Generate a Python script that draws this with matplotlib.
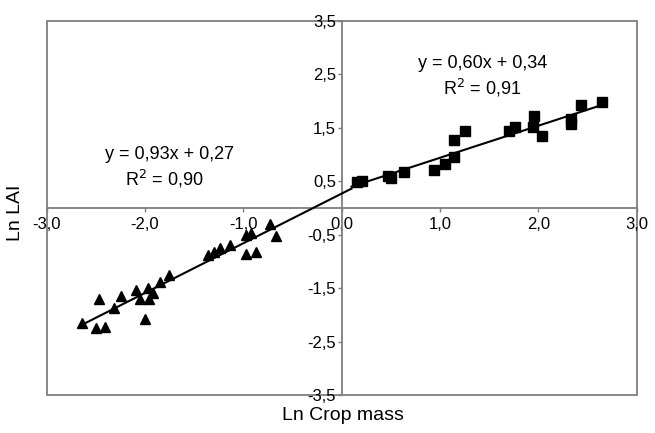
import numpy as np
import matplotlib
matplotlib.use("Agg")
import matplotlib.pyplot as plt
from matplotlib.patches import Rectangle
from matplotlib.ticker import FuncFormatter

plt.rcParams['font.family'] = ['Liberation Sans', 'DejaVu Sans']

# triangles (negative quadrant)
tri_x = [-2.64, -2.47, -2.50, -2.41, -2.32, -2.24, -2.09, -2.05, -1.97, -1.96, -1.92,
         -2.00, -1.85, -1.76, -1.36, -1.30, -1.24, -1.14, -0.97, -0.87, -0.97, -0.92,
         -0.73, -0.67]
tri_y = [-2.16, -1.70, -2.24, -2.22, -1.88, -1.64, -1.54, -1.70, -1.49, -1.70, -1.60,
         -2.07, -1.38, -1.25, -0.88, -0.82, -0.75, -0.69, -0.86, -0.82, -0.51, -0.47,
         -0.30, -0.52]

# squares (positive quadrant)
sq_x = [0.16, 0.21, 0.47, 0.50, 0.63, 0.94, 1.05, 1.14, 1.14, 1.25, 1.70, 1.76,
        1.96, 1.95, 2.04, 2.33, 2.33, 2.43, 2.65]
sq_y = [0.49, 0.51, 0.59, 0.57, 0.67, 0.72, 0.82, 0.96, 1.27, 1.45, 1.45, 1.52,
        1.72, 1.51, 1.34, 1.66, 1.57, 1.93, 1.99]

tri_fit = (0.93, 0.27)
sq_fit = (0.60, 0.34)
tri_range = [-2.64, 0.1]
sq_range = [0.1, 2.65]

xticks = [-3, -2, -1, 0, 1, 2, 3]
yticks = [-3.5, -2.5, -1.5, -0.5, 0.5, 1.5, 2.5, 3.5]

fig = plt.figure(figsize=(6.55, 4.33), dpi=100)
ax = fig.add_axes([0.0713, 0.0878, 0.9007, 0.8637])
ax.set_xlim(-3, 3)
ax.set_ylim(-3.5, 3.5)

grey = '#7f7f7f'
for s in ['top', 'right']:
    ax.spines[s].set_visible(False)
ax.spines['left'].set_position('zero')
ax.spines['bottom'].set_position('zero')
for s in ['left', 'bottom']:
    ax.spines[s].set_color(grey)
    ax.spines[s].set_linewidth(1.3)

ax.add_patch(Rectangle((0, 0), 1, 1, transform=ax.transAxes, fill=False,
                       edgecolor=grey, linewidth=1.3, clip_on=False, zorder=1))

fmt = FuncFormatter(lambda v, p: f"{v:.1f}".replace('.', ','))
ax.set_xticks(xticks)
ax.set_yticks(yticks)
ax.xaxis.set_major_formatter(fmt)
ax.yaxis.set_major_formatter(fmt)
ax.tick_params(axis='both', direction='out', length=3, width=1, color=grey,
               labelsize=12, pad=1)
ax.tick_params(axis='x', pad=3.5)

xs = np.array(tri_range)
ax.plot(xs, tri_fit[0] * xs + tri_fit[1], color='black', linewidth=1.5, zorder=3)
xs = np.array(sq_range)
ax.plot(xs, sq_fit[0] * xs + sq_fit[1], color='black', linewidth=1.5, zorder=3)

ax.plot(tri_x, tri_y, '^', color='black', markersize=7.5, linestyle='none', zorder=4)
ax.plot(sq_x, sq_y, 's', color='black', markersize=6.5, linestyle='none', zorder=4)

ax.text(-1.75, 1.0, "y = 0,93x + 0,27", ha='center', va='center', fontsize=13)
ax.text(-1.8, 0.55, "R$^2$ = 0,90", ha='center', va='center', fontsize=13)
ax.text(1.43, 2.7, "y = 0,60x + 0,34", ha='center', va='center', fontsize=13)
ax.text(1.43, 2.24, "R$^2$ = 0,91", ha='center', va='center', fontsize=13)

fig.text(343 / 655, 1 - 415 / 433, "Ln Crop mass", ha='center', va='center', fontsize=14)
fig.text(15 / 655, 1 - 213 / 433, "Ln LAI", ha='center', va='center', fontsize=14,
         rotation=90)

fig.savefig('out.png', dpi=100)
